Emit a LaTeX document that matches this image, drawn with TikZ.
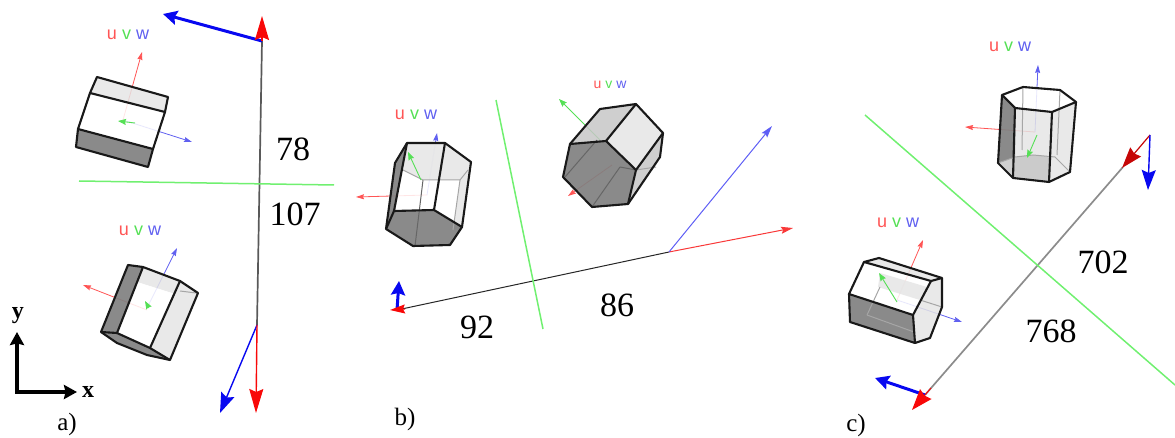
\documentclass[tikz,border=0pt]{standalone}
\usepackage{fontspec}
\setmainfont{Liberation Serif}
\newfontfamily\uvwfont{Liberation Sans}
\usepackage{xcolor}
\usetikzlibrary{arrows.meta}
\definecolor{axisred}{HTML}{F80808}
\definecolor{axisblue}{HTML}{0808F0}
\definecolor{planegreen}{HTML}{70F070}
\definecolor{labelred}{HTML}{FF5555}
\definecolor{labelgreen}{HTML}{55E055}
\definecolor{labelblue}{HTML}{6060F0}
\newcommand{\uvwtext}[1]{\textcolor{labelred}{u}\hspace{#1}\textcolor{labelgreen}{v}\hspace{#1}\textcolor{labelblue}{w}}

\begin{document}
\begin{tikzpicture}[
	x=1pt, y=-1pt,
	% Picture Styling
	value/.style={font=\fontsize{34}{36}\selectfont, text=black, inner sep=0pt},
	panel/.style={font=\fontsize{25}{28}\selectfont, text=black, inner sep=0pt},
	axisname/.style={font=\fontsize{24}{26}\selectfont\bfseries, text=black, inner sep=0pt},
	uvw/.style={font=\uvwfont\fontsize{#1}{#1}\selectfont, inner sep=0pt},
	uvw/.default=18,
	trace/.style={draw=black!85, line width=1pt},
	tracedark/.style={draw=black!65, line width=1.7pt},
	tracegray/.style={draw=black!45, line width=1.7pt},
	plane/.style={draw=planegreen, line width=1.5pt},
	bigred/.style={-{Stealth[length=24pt,width=14pt,inset=3pt]}, draw=axisred, line width=1.4pt},
	bigblue/.style={-{Stealth[length=20pt,width=14pt,inset=3pt]}, draw=axisblue, line width=1.4pt},
	thickblue/.style={-{Stealth[length=14pt,width=14pt,inset=2pt]}, draw=axisblue, line width=3pt},
	slimred/.style={-{Stealth[length=12pt,width=7pt,inset=2pt]}, draw=axisred!80, line width=1pt},
	slimblue/.style={-{Stealth[length=12pt,width=7pt,inset=2pt]}, draw=axisblue!65, line width=1pt},
	localu/.style={-{Stealth[length=8pt,width=5pt,inset=1pt]}, draw=labelred, line width=.8pt},
	localv/.style={-{Stealth[length=8pt,width=6pt,inset=1pt]}, draw=labelgreen, line width=.9pt},
	localw/.style={-{Stealth[length=8pt,width=5pt,inset=1pt]}, draw=labelblue, line width=.8pt},
	edge/.style={draw=black!90, line width=2.1pt, line join=round},
	inner/.style={draw=black!35, line width=1pt},
	darkface/.style={fill=black!50, fill opacity=.92},
	midface/.style={fill=black!22, fill opacity=.85},
	lightface/.style={fill=black!10, fill opacity=.85},
	whiteface/.style={fill=white, fill opacity=.85},
	frame/.style={-{Stealth[length=13pt,width=14pt,inset=1.5pt]}, draw=black, line width=3.2pt}
]
\useasboundingbox (0,0) rectangle (1175,438);

% Panel a: lines
\coordinate (aTop) at (262,41);
\coordinate (aBot) at (257,325);
\draw[tracedark] (aTop) -- (aBot);
\draw[plane] (79,181) -- (334,185);
\draw[thickblue] (aTop) -- (163,14);
\draw[bigred] (aTop) -- (262,16);
\draw[bigblue] (aBot) -- (220,413);
\draw[bigred] (aBot) -- (256,413);
\node[value] (valA) at (293,149) {78};
\node[value] (valB) at (295,214) {107};

% Panel a: upper crystal
\draw[localu] (123,120) -- (142,52);
\draw[localw] (123,120) -- (192,142);
\path[whiteface] (90,93) -- (165,112) -- (153,149) -- (78,129) -- cycle;
\path[lightface] (97,77) -- (168,97) -- (165,112) -- (90,93) -- cycle;
\path[darkface] (78,129) -- (153,149) -- (148,167) -- (76,147) -- cycle;
\draw[edge] (97,77) -- (168,97) -- (165,112) -- (153,149) -- (148,167) -- (76,147) -- (78,129) -- (90,93) -- cycle;
\draw[edge] (90,93) -- (165,112);
\draw[edge] (78,129) -- (153,149);
\draw[localv] (135,123) -- (118,121);
\node[uvw] (uvwA) at (128,35) {\uvwtext{5pt}};

% Panel a: lower crystal
\draw[localu] (147,310) -- (83,285);
\draw[localw] (147,308) -- (177,248);
\path[darkface] (128,265) -- (143,267) -- (117,333) -- (101,332) -- cycle;
\path[lightface] (143,267) -- (180,281) -- (175,294) -- (137,282) -- cycle;
\path[whiteface] (137,282) -- (175,294) -- (150,348) -- (117,333) -- cycle;
\path[lightface] (180,281) -- (198,293) -- (170,360) -- (150,348) -- cycle;
\path[darkface] (101,332) -- (117,333) -- (150,348) -- (170,360) -- (147,355) -- (117,343) -- cycle;
\draw[inner] (180,291) -- (196,293);
\draw[edge] (128,265) -- (143,267) -- (180,281) -- (198,293) -- (170,360) -- (147,355) -- (117,343) -- (101,332) -- cycle;
\draw[edge] (143,267) -- (117,333) -- (150,348) -- (170,360);
\draw[edge] (101,332) -- (117,333);
\draw[edge] (180,281) -- (150,348);
\draw[localv] (149,308) -- (145,301);
\node[uvw] (uvwB) at (140,231) {\uvwtext{5pt}};

% Frame
\coordinate (frameO) at (17,392);
\draw[frame] (frameO) -- (17,332);
\draw[frame] (15.4,392) -- (77,392);
\node[axisname] (frameY) at (18,316) {y};
\node[axisname] (frameX) at (88,392) {x};
\node[panel] (panelA) at (67,424) {a)};

% Panel b: lines
\coordinate (bLeft) at (397,310);
\coordinate (bRight) at (669,252);
\draw[trace] (bLeft) -- (bRight);
\draw[plane] (496,100) -- (543,329);
\draw[slimred] (bRight) -- (793,228);
\draw[slimblue] (bRight) -- (772,126);
\draw[thickblue] (bLeft) -- (399,281);
\draw[-{Stealth[length=15pt,width=9pt,inset=2pt]}, draw=axisred, line width=1pt] (405,309) -- (390,310);
\node[value] (valC) at (477,327) {92};
\node[value] (valD) at (617,305) {86};
\node[panel] (panelB) at (405,419) {b)};

% Panel b: left crystal
\draw[localu] (427,195) -- (356,197);
\draw[localw] (427,195) -- (437,133);
\path[whiteface] (407,143) -- (445,143) -- (471,162) -- (462,227) -- (434,210) -- (394,211) -- cycle;
\path[lightface] (407,143) -- (445,143) -- (440,180) -- (423,180) -- (403,170) -- cycle;
\path[lightface] (445,143) -- (471,162) -- (460,180) -- (440,180) -- cycle;
\path[lightface] (460,180) -- (471,162) -- (462,227) -- (453,230) -- cycle;
\path[darkface] (386,229) -- (394,211) -- (434,210) -- (462,227) -- (450,245) -- (413,246) -- cycle;
\path[darkface] (386,229) -- (395,163) -- (407,143) -- (394,211) -- cycle;
\draw[inner, black!60] (423,180) -- (415,246);
\draw[inner] (403,170) -- (423,180) -- (460,180) -- (468,170);
\draw[inner] (460,180) -- (453,230);
\draw[edge] (407,143) -- (445,143) -- (471,162) -- (462,227) -- (450,245) -- (413,246) -- (386,229) -- (395,163) -- cycle;
\draw[edge] (407,143) -- (394,211) -- (434,210) -- (462,227);
\draw[edge] (445,143) -- (434,210);
\draw[edge] (394,211) -- (386,229);
\draw[localv] (421,180) -- (408,152);
\node[uvw] (uvwC) at (416,115) {\uvwtext{5pt}};

% Panel b: right crystal
\draw[localu] (612,165) -- (568,196);
\draw[localv] (600,140) -- (559,99);
\path[midface] (600,109) -- (636,104) -- (606,141) -- (570,144) -- cycle;
\path[lightface] (636,104) -- (663,133) -- (636,170) -- (606,141) -- cycle;
\path[midface] (663,133) -- (660,157) -- (628,204) -- (636,170) -- cycle;
\path[darkface] (570,144) -- (606,141) -- (636,170) -- (628,204) -- (592,207) -- (563,177) -- cycle;
\draw[inner, black!60] (597,140) -- (565,177);
\draw[inner, black!60] (620,167) -- (592,207);
\draw[inner, black!60] (620,167) -- (636,170);
\draw[inner] (636,170) -- (656,167);
\draw[edge] (600,109) -- (636,104) -- (663,133) -- (660,157) -- (628,204) -- (592,207) -- (563,177) -- (570,144) -- cycle;
\draw[edge] (570,144) -- (606,141) -- (636,170) -- (628,204);
\draw[edge] (606,141) -- (636,104);
\draw[edge] (636,170) -- (663,133);
\node[uvw={14}] (uvwD) at (610,85) {\uvwtext{4pt}};

% Panel c: lines
\coordinate (cTop) at (1150,135);
\coordinate (cBot) at (925,395);
\coordinate (cHead) at (1123,167);
\draw[tracegray] (cHead) -- (cBot);
\draw[plane] (865,115) -- (1175,385);
\draw[-{Stealth[length=21pt,width=14pt,inset=2pt]}, draw=axisred!80!black, line width=1.2pt] (cTop) -- (1122,168);
\draw[bigblue] (cTop) -- (1148,190);
\draw[thickblue] (cBot) -- (875,378);
\draw[-{Stealth[length=21pt,width=15pt,inset=2pt]}, draw=axisred, line width=1pt] (931,388) -- (912,410);
\node[value] (valE) at (1103,262) {702};
\node[value] (valF) at (1051,331) {768};
\node[panel] (panelC) at (856,425) {c)};

% Panel c: upper crystal
\draw[localu] (1035,132) -- (965,127);
\draw[localw] (1035,132) -- (1038,65);
\path[whiteface] (1002,95) -- (1023,87) -- (1060,90) -- (1076,102) -- (1052,112) -- (1015,108) -- cycle;
\path[lightface] (1015,108) -- (1052,112) -- (1049,182) -- (1013,178) -- cycle;
\path[midface] (1015,157) -- (1033,155) -- (1052,157) -- (1049,182) -- (1013,178) -- cycle;
\path[lightface] (1052,112) -- (1076,102) -- (1070,172) -- (1049,182) -- cycle;
\path[darkface] (1002,95) -- (1015,108) -- (1015,157) -- (998,163) -- cycle;
\path[midface] (998,163) -- (1015,157) -- (1013,178) -- cycle;
\draw[inner] (1023,87) -- (1022,150);
\draw[inner] (1060,90) -- (1057,155);
\draw[inner] (1015,157) -- (1033,155) -- (1055,157) -- (1070,172);
\draw[inner] (1015,157) -- (998,163);
\draw[edge] (1002,95) -- (1023,87) -- (1060,90) -- (1076,102) -- (1070,172) -- (1049,182) -- (1013,178) -- (998,163) -- cycle;
\draw[edge] (1002,95) -- (1015,108) -- (1013,178);
\draw[edge] (1015,108) -- (1052,112) -- (1049,182);
\draw[edge] (1052,112) -- (1076,102);
\draw[localv] (1037,135) -- (1027,158);
\node[uvw] (uvwE) at (1010,47) {\uvwtext{5pt}};

% Panel c: lower crystal
\draw[localu] (897,300) -- (923,240);
\draw[localw] (897,300) -- (962,322);
\path[whiteface] (864,262) -- (931,281) -- (913,315) -- (849,294) -- cycle;
\path[lightface] (864,262) -- (879,258) -- (942,278) -- (931,281) -- cycle;
\path[lightface] (880,273) -- (927,287) -- (920,300) -- (878,287) -- cycle;
\path[lightface] (931,281) -- (942,278) -- (942,307) -- (930,338) -- (915,343) -- (913,315) -- cycle;
\path[darkface] (849,294) -- (913,315) -- (915,343) -- (850,322) -- cycle;
\draw[inner] (880,287) -- (867,315);
\draw[inner] (867,315) -- (914,332);
\draw[inner] (920,300) -- (942,307);
\draw[edge] (864,262) -- (879,258) -- (942,278) -- (942,307) -- (930,338) -- (915,343) -- (850,322) -- (849,294) -- cycle;
\draw[edge] (864,262) -- (931,281) -- (942,278);
\draw[edge] (849,294) -- (913,315) -- (915,343);
\draw[edge] (931,281) -- (913,315);
\draw[localv] (897,302) -- (879,273);
\node[uvw] (uvwF) at (898,223) {\uvwtext{5pt}};
\end{tikzpicture}
\end{document}
